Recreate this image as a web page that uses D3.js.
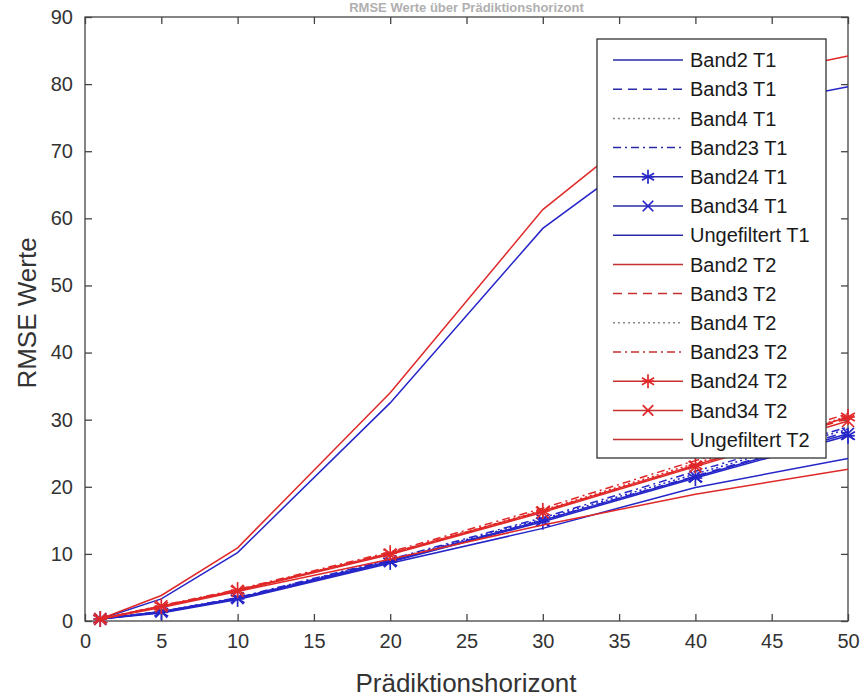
<!DOCTYPE html>
<html><head><meta charset="utf-8">
<script src="https://cdn.jsdelivr.net/npm/d3@7"></script>
<style>body{margin:0;background:#fff;} svg{display:block;font-family:"Liberation Sans",Arial,sans-serif;}</style>
</head><body>
<svg id="c" width="865" height="698"></svg>
<script>
const horizons = [1, 5, 10, 20, 30, 40, 50];
const xTicks = [0,5,10,15,20,25,30,35,40,45,50];
const yTicks = [0,10,20,30,40,50,60,70,80,90];
const seriesNames = ["Band2 T1","Band3 T1","Band4 T1","Band23 T1","Band24 T1","Band34 T1","Ungefiltert T1",
  "Band2 T2","Band3 T2","Band4 T2","Band23 T2","Band24 T2","Band34 T2","Ungefiltert T2"];
const band2T1 = [0.3,1.2,3.2,8.6,13.8,19.9,24.2];
const band3T1 = [0.3,1.4,3.4,9.0,15.0,21.6,28.2];
const band4T1 = [0.3,1.4,3.4,9.1,15.2,21.9,28.6];
const band23T1 = [0.3,1.4,3.5,9.2,15.4,22.3,28.9];
const band24T1 = [0.3,1.3,3.3,8.8,14.8,21.3,27.6];
const band34T1 = [0.3,1.4,3.4,8.9,15.0,21.5,27.9];
const ungefiltertT1 = [0.3,3.3,10.2,32.5,58.5,75.2,79.6];
const band2T2 = [0.3,2.0,4.4,9.2,14.3,18.9,22.6];
const band3T2 = [0.3,2.2,4.6,10.0,16.3,23.2,30.2];
const band4T2 = [0.3,2.2,4.6,10.1,16.5,23.5,30.5];
const band23T2 = [0.3,2.3,4.7,10.3,16.8,23.9,30.9];
const band24T2 = [0.3,2.2,4.6,10.1,16.4,23.2,30.4];
const band34T2 = [0.3,2.2,4.5,9.9,16.2,23.0,29.8];
const ungefiltertT2 = [0.3,3.8,10.9,34.0,61.3,79.5,84.2];
const seriesValues = [band2T1,band3T1,band4T1,band23T1,band24T1,band34T1,ungefiltertT1,
  band2T2,band3T2,band4T2,band23T2,band24T2,band34T2,ungefiltertT2];

const BLUE = "#2525c8", RED = "#e02828";
const styles = ["solid","dash","dot","dashdot","star","cross","solid"];
const dashMap = {solid:null, dash:"9,6", dot:"2,3", dashdot:"8,4,2,4", star:null, cross:null};

const svg = d3.select("#c");
const L = 85, R = 848, T = 17, B = 621;
const x = d3.scaleLinear().domain([0,50]).range([L,R]);
const y = d3.scaleLinear().domain([0,90]).range([B,T]);

// title (tiny, fits above the box)
svg.append("text").attr("x",(L+R)/2).attr("y",12).attr("text-anchor","middle")
  .attr("font-size",13).attr("font-weight","bold").attr("fill","#b0b0b0")
  .text("RMSE Werte über Prädiktionshorizont");

const axisCol = "#444";
svg.append("rect").attr("x",L).attr("y",T).attr("width",R-L).attr("height",B-T)
  .attr("fill","none").attr("stroke",axisCol).attr("stroke-width",1.3);

const xb = svg.append("g").attr("transform",`translate(0,${B})`)
  .call(d3.axisBottom(x).tickValues(xTicks).tickSize(-7).tickPadding(13).tickFormat(d3.format("d")));
const xt = svg.append("g").attr("transform",`translate(0,${T})`)
  .call(d3.axisTop(x).tickValues(xTicks).tickSize(-7).tickFormat(""));
const yl = svg.append("g").attr("transform",`translate(${L},0)`)
  .call(d3.axisLeft(y).tickValues(yTicks).tickSize(-7).tickPadding(12).tickFormat(d3.format("d")));
const yr = svg.append("g").attr("transform",`translate(${R},0)`)
  .call(d3.axisRight(y).tickValues(yTicks).tickSize(-7).tickFormat(""));
[xb,xt,yl,yr].forEach(a=>{
  a.select(".domain").remove();
  a.selectAll(".tick line").attr("stroke",axisCol).attr("stroke-width",1.3);
  a.selectAll(".tick text").attr("fill","#333").attr("font-size",20).attr("font-family","'Liberation Sans',Arial,sans-serif");
});
xb.selectAll(".tick text").attr("dy","0.71em");

// axis labels
svg.append("text").attr("x",466).attr("y",692).attr("text-anchor","middle")
  .attr("font-size",26).attr("fill","#333").text("Prädiktionshorizont");
svg.append("text").attr("transform",`translate(36,313) rotate(-90)`).attr("text-anchor","middle")
  .attr("font-size",26).attr("fill","#333").text("RMSE Werte");

// lines
const line = d3.line().x((d,i)=>x(horizons[i])).y(d=>y(d));
const plot = svg.append("g");
function drawMarker(sel, type, color, cx, cy, r){
  if(type==="star"){
    for(const a of [0,60,120]){
      const rad=a*Math.PI/180;
      sel.append("line").attr("x1",cx-r*Math.sin(rad)).attr("y1",cy-r*Math.cos(rad))
        .attr("x2",cx+r*Math.sin(rad)).attr("y2",cy+r*Math.cos(rad))
        .attr("stroke",color).attr("stroke-width",1.7);
    }
    sel.append("line").attr("x1",cx-r*0.85).attr("y1",cy).attr("x2",cx+r*0.85).attr("y2",cy)
      .attr("stroke",color).attr("stroke-width",1.7);
  } else if(type==="cross"){
    const k=r*0.75;
    sel.append("line").attr("x1",cx-k).attr("y1",cy-k).attr("x2",cx+k).attr("y2",cy+k).attr("stroke",color).attr("stroke-width",1.7);
    sel.append("line").attr("x1",cx-k).attr("y1",cy+k).attr("x2",cx+k).attr("y2",cy-k).attr("stroke",color).attr("stroke-width",1.7);
  }
}
seriesValues.forEach((vals,si)=>{
  const color = si<7?BLUE:RED;
  const st = styles[si%7];
  plot.append("path").datum(vals).attr("d",line).attr("fill","none")
    .attr("stroke",color).attr("stroke-width",1.5)
    .attr("stroke-dasharray",dashMap[st]);
  if(st==="star"||st==="cross"){
    vals.forEach((v,i)=>drawMarker(plot.append("g"),st,color,x(horizons[i]),y(v),8));
  }
});

// legend
const lg = svg.append("g");
const lx = 597, ly = 39, lw = 229, lh = 419;
lg.append("rect").attr("x",lx).attr("y",ly).attr("width",lw).attr("height",lh)
  .attr("fill","#fff").attr("stroke","#333").attr("stroke-width",1.3);
seriesNames.forEach((name,si)=>{
  const color = si<7?"#2a2aa8":"#c83030";
  const st = styles[si%7];
  const yy = 60 + si*29.2;
  lg.append("line").attr("x1",613).attr("x2",683).attr("y1",yy).attr("y2",yy)
    .attr("stroke",st==="dot"?"#888":color).attr("stroke-width",1.5)
    .attr("stroke-dasharray",dashMap[st]);
  if(st==="star"||st==="cross") drawMarker(lg.append("g"),st,si<7?BLUE:RED,648,yy,7);
  lg.append("text").attr("x",690).attr("y",yy).attr("dy","0.36em")
    .attr("font-size",20).attr("fill","#1a1a1a").text(name);
});
</script>
</body></html>
